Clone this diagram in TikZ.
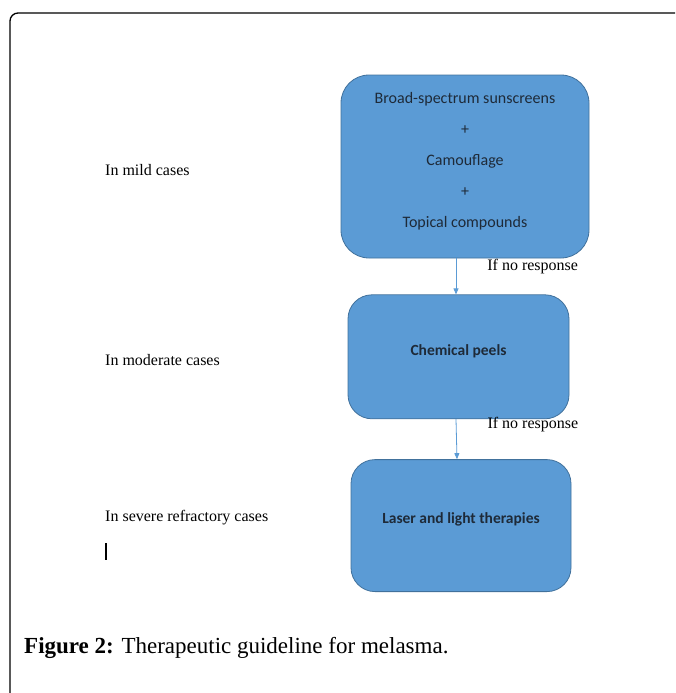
\documentclass[tikz,border=0pt]{standalone}
\usepackage{fontspec}
\setmainfont{Liberation Serif}
\newfontfamily\calibri{Carlito}
\usetikzlibrary{positioning,arrows.meta}

\definecolor{officeblue}{HTML}{5B9BD5}
\definecolor{officeedge}{HTML}{41719C}
\definecolor{boxink}{HTML}{1E2A38}

\begin{document}
\begin{tikzpicture}[x=1pt,y=-1pt,
    stepbox/.style={draw=officeedge,fill=officeblue,line width=0.8pt,rounded corners=#1},
    stepbox/.default=28pt,
    boxtext/.style={font=\calibri\fontsize{16}{31}\selectfont,text=boxink,align=center,inner sep=0pt},
    boldtext/.style={boxtext,font=\calibri\bfseries\fontsize{15.5}{18}\selectfont},
    caselabel/.style={font=\fontsize{16}{19}\selectfont,text=black,anchor=west,inner sep=0pt},
    flow/.style={officeblue,line width=0.8pt,-{Triangle[length=6pt,width=5pt]}}]
   \useasboundingbox (0,0) rectangle (675,693);
   \clip (0,0) rectangle (675,693);
   % page frame
   \draw[line width=1.3pt,rounded corners=8pt] (10,720) -- (10,13) -- (700,13);
   % treatment boxes
   \node[stepbox,minimum width=248pt,minimum height=183pt] (sun) at (465,166.5) {};
   \node[stepbox=24pt,minimum width=221pt,minimum height=124pt] (peel) [below=36pt of sun,xshift=-6.5pt] {};
   \node[stepbox=24pt,minimum width=220pt,minimum height=132pt] (laser) [below=40pt of peel,xshift=2.5pt] {};
   \node[boxtext] (suntext) at ([yshift=5pt]sun.center)
      {Broad-spectrum sunscreens\\+\\Camouflage\\+\\Topical compounds};
   \node[boldtext] (peeltext) at ([yshift=6pt]peel.center) {Chemical peels};
   \node[boldtext] (lasertext) at ([yshift=6pt]laser.center) {Laser and light therapies};
   % arrows
   \path[flow]
    (sun.south -| 456,0) edge node[pos=0.22,right=31pt,caselabel] (resp1) {If no response} (peel.north -| 456,0)
    (peel.south -| 456,0) edge node[pos=0.125,right=31pt,caselabel] (resp2) {If no response} (laser.north -| 457,0);
   % severity labels
   \node[caselabel] (mild) at (105,170) {In mild cases};
   \node[caselabel] (moderate) at (105,360) {In moderate cases};
   \node[caselabel] (severe) at (105,518) {In severe refractory cases};
   \draw[line width=2pt] (106,543) -- (106,560);
   % caption
   \node[anchor=west,inner sep=0pt,font=\fontsize{23}{26}\selectfont] (caption) at (24,648)
      {\textbf{Figure 2:} Therapeutic guideline for melasma.};
\end{tikzpicture}
\end{document}
